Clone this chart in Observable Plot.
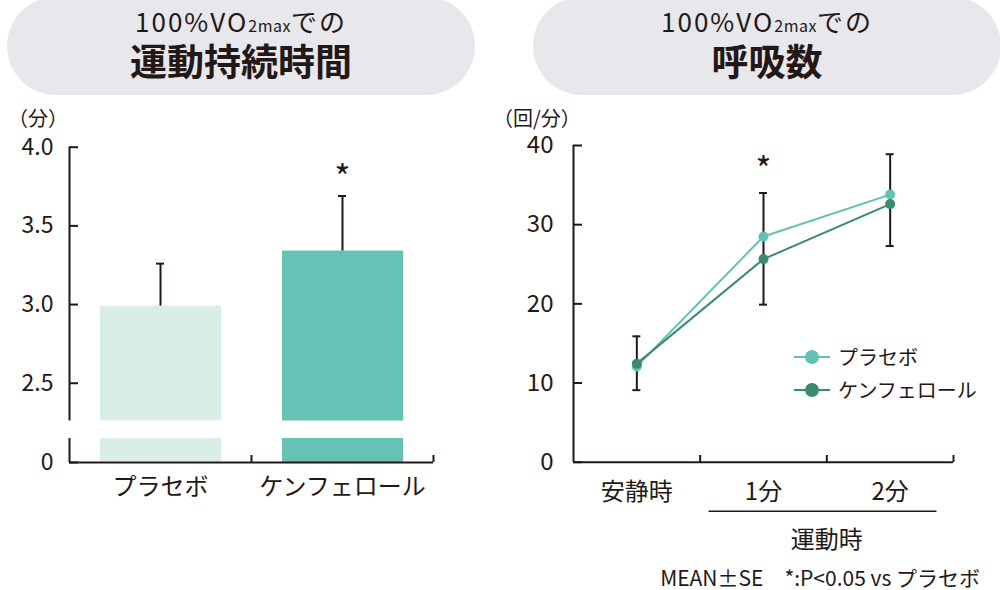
<!DOCTYPE html>
<html><head><meta charset="utf-8">
<script src="https://cdn.jsdelivr.net/npm/d3@7"></script>
<script src="https://cdn.jsdelivr.net/npm/@observablehq/plot@0.6"></script>
<style>
body{margin:0;width:1000px;height:590px;position:relative;background:#fff;font-family:"Noto Sans CJK JP","Noto Sans",sans-serif;color:#231815;overflow:hidden}
.pill{position:absolute;top:-3px;height:98px;width:468px;background:#e7e7ec;border-radius:49px;text-align:center}
.t1{position:absolute;left:0;right:0;top:10px;height:28px;font-size:26px;font-weight:400;letter-spacing:2px;line-height:28px;display:flex;justify-content:center;align-items:baseline}
.t1 .s{font-size:16px;letter-spacing:0.5px}
.t2{position:absolute;left:0;right:0;top:42px;font-size:37px;font-weight:700;line-height:42px}
.unit{position:absolute;top:106px;font-size:20px;line-height:24px}
.chart{position:absolute;top:100px}
.legend{position:absolute;left:794px;font-size:20px;line-height:28px}
.legend .row{position:absolute;left:0;height:28px;white-space:nowrap}
.legend .ln{position:absolute;left:0;top:13px;width:36px;height:2px}
.legend .dt{position:absolute;left:11px;top:7px;width:14px;height:14px;border-radius:50%}
.legend .lb{position:absolute;left:44px;top:0}
.caption{position:absolute;right:20px;top:566px;font-size:21px;line-height:22px;white-space:nowrap}
</style></head>
<body>
<div class="pill" style="left:7px"><div class="t1"><span>100%VO</span><span class="s">2max</span><span>での</span></div><div class="t2">運動持続時間</div></div>
<div class="pill" style="left:533px"><div class="t1"><span>100%VO</span><span class="s">2max</span><span>での</span></div><div class="t2">呼吸数</div></div>
<div class="unit" style="left:8px">（分）</div>
<div class="unit" style="left:493px">（回/分）</div>
<div id="left" class="chart" style="left:0"></div>
<div id="right" class="chart" style="left:500px"></div>
<div id="legend" class="legend"></div>
<div class="caption">MEAN±SE　*:P&lt;0.05 vs プラセボ</div>
<script>
// ---- data: exercise duration (min) ----
const groups = ["プラセボ", "ケンフェロール"];
const durationMean = [2.99, 3.34];
const durationSE = [0.27, 0.35];
const durationSig = [false, true];
const durationTicks = [0, 2.5, 3.0, 3.5, 4.0];
const barColors = ["#d9eee8", "#66c2b4"];

// ---- data: respiratory rate (breaths/min) ----
const times = ["安静時", "1分", "2分"];
const timeGroup = "運動時";
const placeboResp = [12.1, 28.5, 33.8];
const kaempferolResp = [12.45, 25.65, 32.6];
const respErrLow = [9.1, 19.9, 27.3];
const respErrHigh = [15.9, 34.0, 38.9];
const respSig = [false, true, false];
const respTicks = [0, 10, 20, 30, 40];
const lineColors = ["#63c1b2", "#3b8b6d"];

const ink = "#231815";
const font = '"Noto Sans CJK JP", "Noto Sans", sans-serif';

// ---------- left chart: bars with broken axis ----------
const breakLow = 1, breakHigh = 2.26;
const barRows = groups.map((g, i) => ({g, i, mean: durationMean[i], hi: durationMean[i] + durationSE[i], sig: durationSig[i], color: barColors[i]}));
const barSegs = barRows.flatMap(d => [
  {i: d.i, y1: 0, y2: breakLow, color: d.color},
  {i: d.i, y1: breakHigh, y2: d.mean, color: d.color}
]);
const axisSegs = [{y1: 0, y2: breakLow}, {y1: breakHigh, y2: d3.max(durationTicks)}];

const left = Plot.plot({
  width: 500, height: 490,
  marginLeft: 69, marginRight: 67, marginTop: 46, marginBottom: 128,
  style: {background: "transparent", fontFamily: font, color: ink},
  x: {type: "linear", domain: [0, groups.length], range: [69, 433], axis: null},
  y: {type: "linear", domain: [0, breakLow, breakHigh, 4], range: [362, 338, 320.5, 46.7], axis: null},
  marks: [
    Plot.rectY(barSegs, {x1: d => d.i, x2: d => d.i + 1, y1: "y1", y2: "y2", fill: d => d.color, insetLeft: 31, insetRight: 30}),
    Plot.ruleX(barRows, {x: d => d.i + 0.5, y1: "mean", y2: "hi", stroke: ink, strokeWidth: 2}),
    Plot.ruleY(barRows, {x1: d => d.i + 0.5, x2: d => d.i + 0.5, y: "hi", insetLeft: -4, insetRight: -4, stroke: ink, strokeWidth: 2}),
    Plot.text(barRows.filter(d => d.sig), {x: d => d.i + 0.5, y: "hi", text: () => "*", fontSize: 34, fill: ink, dy: -17, lineAnchor: "middle"}),
    Plot.ruleX(axisSegs, {x: 0, y1: "y1", y2: "y2", stroke: ink, strokeWidth: 2}),
    Plot.ruleY([0], {x1: 0, x2: groups.length, stroke: ink, strokeWidth: 2}),
    Plot.axisY({ticks: durationTicks, tickSize: 9, dx: 9, tickFormat: () => "", color: ink, strokeWidth: 2}),
    Plot.axisY({ticks: durationTicks, tickSize: 0, tickPadding: 16, tickFormat: d => d === 0 ? "0" : d.toFixed(1), fontSize: 23, color: ink}),
    Plot.axisX({ticks: d3.range(1, groups.length + 1), tickSize: 7, dy: -7, tickFormat: () => "", color: ink, strokeWidth: 2}),
    Plot.text(groups, {x: (d, i) => i + 0.5, y: 0, text: d => d, dy: 25, fontSize: 24, fill: ink, lineAnchor: "middle"})
  ]
});
document.getElementById("left").append(left);

// ---------- right chart: lines ----------
const respRows = [
  ...placeboResp.map((v, i) => ({series: groups[0], i, v})),
  ...kaempferolResp.map((v, i) => ({series: groups[1], i, v}))
];
const errRows = times.map((t, i) => ({i, lo: respErrLow[i], hi: respErrHigh[i], sig: respSig[i]}));
const groupIdx = times.map((t, i) => i).filter(i => i > 0);

const right = Plot.plot({
  width: 500, height: 490,
  marginLeft: 73, marginRight: 47, marginTop: 45, marginBottom: 128,
  style: {background: "transparent", fontFamily: font, color: ink},
  x: {type: "linear", domain: [0, times.length], range: [73, 453], axis: null},
  y: {type: "linear", domain: [0, 40], range: [361.7, 45], axis: null},
  color: {domain: groups, range: lineColors},
  marks: [
    Plot.ruleX(errRows, {x: d => d.i + 0.5, y1: "lo", y2: "hi", stroke: ink, strokeWidth: 2}),
    Plot.ruleY(errRows, {x1: d => d.i + 0.5, x2: d => d.i + 0.5, y: "lo", insetLeft: -4, insetRight: -4, stroke: ink, strokeWidth: 2}),
    Plot.ruleY(errRows, {x1: d => d.i + 0.5, x2: d => d.i + 0.5, y: "hi", insetLeft: -4, insetRight: -4, stroke: ink, strokeWidth: 2}),
    Plot.line(respRows, {x: d => d.i + 0.5, y: "v", z: "series", stroke: "series", strokeWidth: 2}),
    Plot.dot(respRows, {x: d => d.i + 0.5, y: "v", fill: "series", r: 5}),
    Plot.text(errRows.filter(d => d.sig), {x: d => d.i + 0.5, y: "hi", text: () => "*", fontSize: 34, fill: ink, dy: -22, lineAnchor: "middle"}),
    Plot.ruleX([0], {y1: 0, y2: 40, stroke: ink, strokeWidth: 2}),
    Plot.ruleY([0], {x1: 0, x2: times.length, stroke: ink, strokeWidth: 2}),
    Plot.axisY({ticks: respTicks, tickSize: 9, dx: 9, tickFormat: () => "", color: ink, strokeWidth: 2}),
    Plot.axisY({ticks: respTicks, tickSize: 0, tickPadding: 20, fontSize: 24, color: ink}),
    Plot.axisX({ticks: d3.range(1, times.length + 1), tickSize: 7, dy: -7, tickFormat: () => "", color: ink, strokeWidth: 2}),
    Plot.text(times, {x: (d, i) => i + 0.5, y: 0, text: d => d, dy: 30, fontSize: 24, fill: ink, lineAnchor: "middle"}),
    Plot.ruleY([0], {x1: d3.min(groupIdx) + 0.07, x2: d3.max(groupIdx) + 0.87, dy: 49, stroke: ink, strokeWidth: 1.5}),
    Plot.text([timeGroup], {x: (d3.min(groupIdx) + d3.max(groupIdx) + 1) / 2, y: 0, text: d => d, dy: 78, fontSize: 24, fill: ink, lineAnchor: "middle"})
  ]
});
document.getElementById("right").append(right);

// ---------- legend ----------
const legend = document.getElementById("legend");
legend.style.top = "343px";
groups.forEach((g, i) => {
  const row = document.createElement("div");
  row.className = "row";
  row.style.top = (i * 33) + "px";
  row.innerHTML = `<div class="ln" style="background:${lineColors[i]}"></div><div class="dt" style="background:${lineColors[i]}"></div><div class="lb">${g}</div>`;
  legend.append(row);
});
</script>
</body></html>
